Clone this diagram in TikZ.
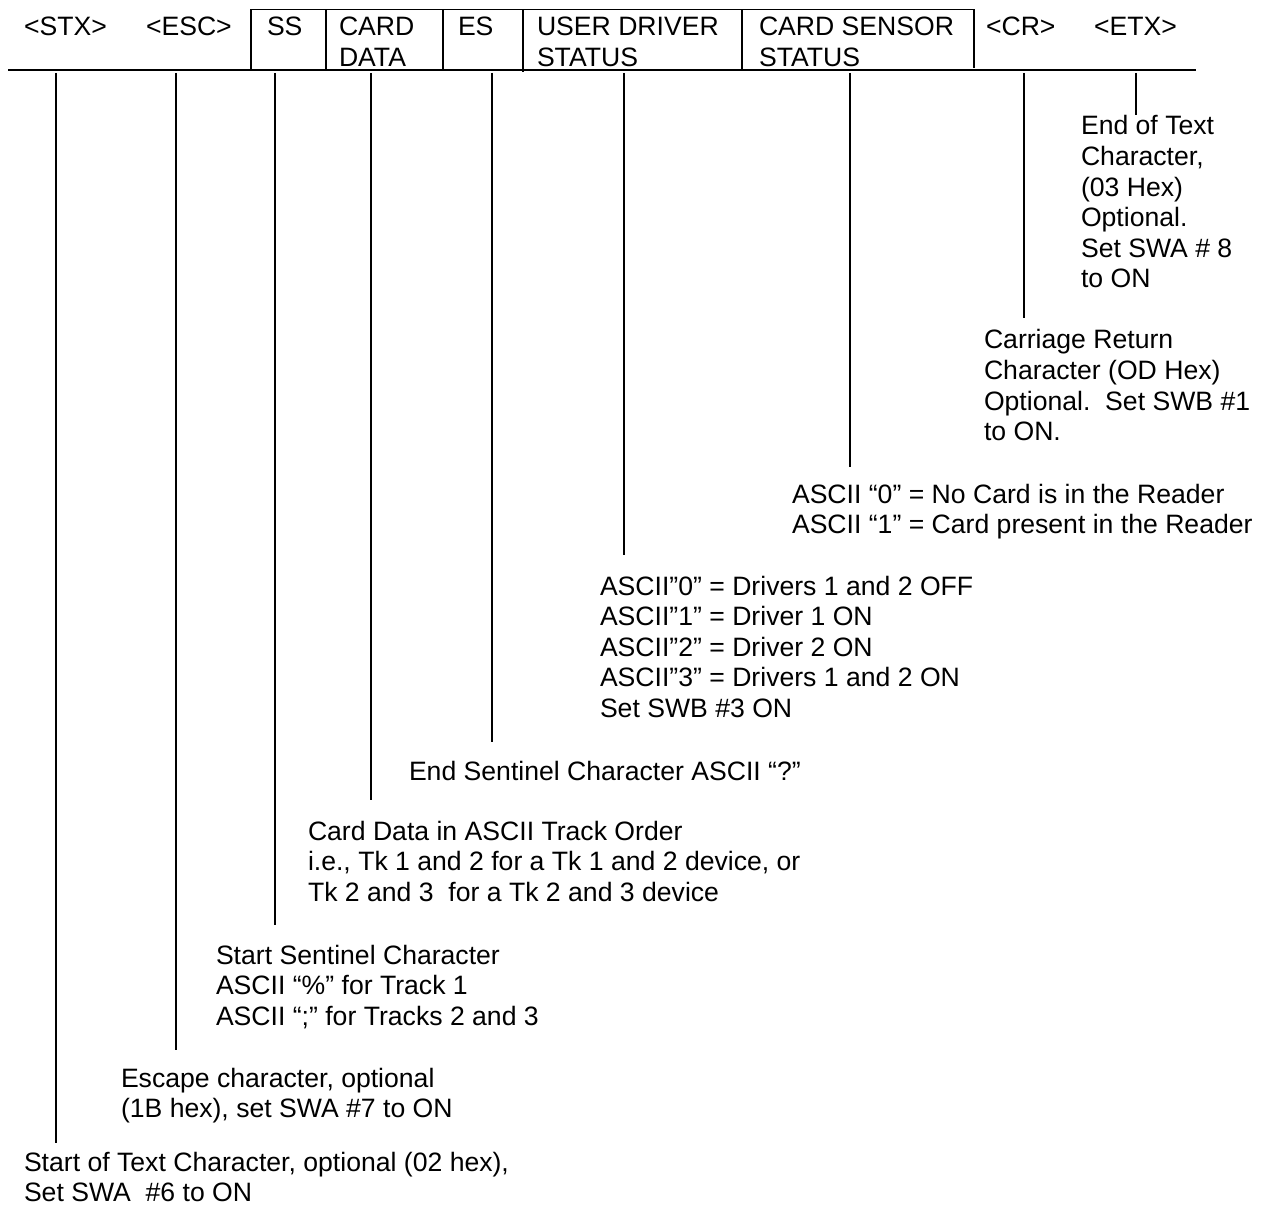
\documentclass[tikz,border=0pt]{standalone}
\usepackage{fontspec}
\setmainfont{Liberation Sans}
\newcommand\myblk[1]{\vtop{#1}}
\newcommand\tln[1]{\hbox{#1}}
\begin{document}
\begin{tikzpicture}[x=1pt,y=-1pt,
  lbl/.style={anchor=base west, inner sep=0pt, outer sep=0pt, font=\fontsize{26.6}{30.6}\selectfont},
  stub/.style={line width=1.6pt},
  boxln/.style={line width=1.6pt},
  mainln/.style={line width=2.6pt}]
\useasboundingbox (0,0) rectangle (1261,1214);
% header frame
\coordinate (L0) at (8,70);
\coordinate (L1) at (1196,70);
\draw[mainln] (L0) -- (L1);
\coordinate (T0) at (251,9.5);
\coordinate (T1) at (974,9.5);
\draw[boxln] (251,70) -- (T0) -- (T1) -- (974,68);
\draw[boxln] (326,9.5) -- (326,70);
\draw[boxln] (443,9.5) -- (443,70);
\draw[boxln] (523,9.5) -- (523,72);
\draw[boxln] (742,9.5) -- (742,70);
% header labels
\node[lbl] (hstx) at (24,35.5) {<STX>};
\node[lbl] (hesc) at (146,35.5) {<ESC>};
\node[lbl] (hss) at (267,35.5) {SS};
\node[lbl] (hcd) at (339,35.5) {\myblk{\tln{CARD}\tln{DATA}}};
\node[lbl] (hes) at (458,35.5) {ES};
\node[lbl] (hud) at (537,35.5) {\myblk{\tln{USER DRIVER}\tln{STATUS}}};
\node[lbl] (hcs) at (759,35.5) {\myblk{\tln{CARD SENSOR}\tln{STATUS}}};
\node[lbl] (hcr) at (986,35.5) {<CR>};
\node[lbl] (hetx) at (1094,35.5) {<ETX>};
% descriptions
\node[lbl] (detx) at (1081,135) {\myblk{\tln{End of Text}\tln{Character,}\tln{(03 Hex)}\tln{Optional.}\tln{Set SWA \# 8}\tln{to ON}}};
\node[lbl] (dcr) at (984,349) {\myblk{\tln{Carriage Return}\tln{Character (OD Hex)}\tln{Optional.\ \ Set SWB \#1}\tln{to ON.}}};
\node[lbl] (dcs) at (792,503) {\myblk{\tln{ASCII “0” = No Card is in the Reader}\tln{ASCII “1” = Card present in the Reader}}};
\node[lbl] (dud) at (600,595) {\myblk{\tln{ASCII”0” = Drivers 1 and 2 OFF}\tln{ASCII”1” = Driver 1 ON}\tln{ASCII”2” = Driver 2 ON}\tln{ASCII”3” = Drivers 1 and 2 ON}\tln{Set SWB \#3 ON}}};
\node[lbl] (des) at (409,780) {End Sentinel Character ASCII “?”};
\node[lbl] (dcd) at (308,840) {\myblk{\tln{Card Data in ASCII Track Order}\tln{i.e., Tk 1 and 2 for a Tk 1 and 2 device, or}\tln{Tk 2 and 3\ \ for a Tk 2 and 3 device}}};
\node[lbl] (dss) at (216,964) {\myblk{\tln{Start Sentinel Character}\tln{ASCII “\%” for Track 1}\tln{ASCII “;” for Tracks 2 and 3}}};
\node[lbl] (desc) at (121,1087) {\myblk{\tln{Escape character, optional}\tln{(1B hex), set SWA \#7 to ON}}};
\node[lbl] (dstx) at (24,1171) {\myblk{\tln{Start of Text Character, optional (02 hex),}\tln{Set SWA\ \ \#6 to ON}}};
% stubs
\coordinate (sSTXa) at (56,73);   \coordinate (sSTXb) at (56,1143);
\coordinate (sESCa) at (176,73);  \coordinate (sESCb) at (176,1050);
\coordinate (sSSa) at (275,73);   \coordinate (sSSb) at (275,925);
\coordinate (sCDa) at (371,73);   \coordinate (sCDb) at (371,800);
\coordinate (sESa) at (492,73);   \coordinate (sESb) at (492,742);
\coordinate (sUDa) at (624,73);   \coordinate (sUDb) at (624,555);
\coordinate (sCSa) at (850,73);   \coordinate (sCSb) at (850,467);
\coordinate (sCRa) at (1024,73);  \coordinate (sCRb) at (1024,318);
\coordinate (sETa) at (1136,73);  \coordinate (sETb) at (1136,115);
\foreach \s in {STX,ESC,SS,CD,ES,UD,CS,CR,ET}{\draw[stub] (s\s a) -- (s\s b);}
\end{tikzpicture}
\end{document}
